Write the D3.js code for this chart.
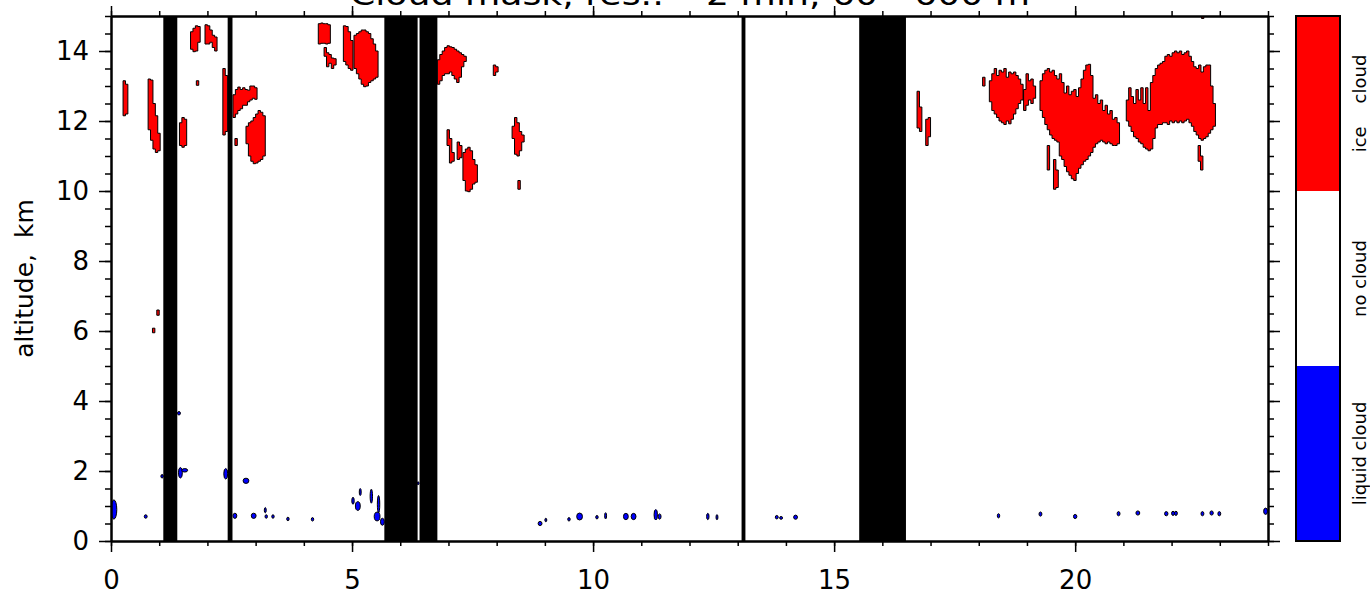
<!DOCTYPE html>
<html>
<head>
<meta charset="utf-8">
<script src="https://cdn.jsdelivr.net/npm/d3@7"></script>
<style>
body { margin: 0; background: #fff; }
svg { display: block; }
text { font-family: "DejaVu Sans", sans-serif; fill: #000; }
</style>
</head>
<body>
<svg width="1370" height="598"></svg>
<script>
// axis labels
const xTicks = [0, 5, 10, 15, 20];
const yTicks = [0, 2, 4, 6, 8, 10, 12, 14];

// periods without data (hours)
const gapStart = [1.085, 2.42, 5.67, 6.40, 13.08, 15.52];
const gapEnd   = [1.375, 2.52, 6.36, 6.77, 13.16, 16.49];

// ice cloud patches: start hour, then [base, top] km per 0.05 h column
const step = 0.05;
const iceStart = [0.25, 0.77, 1.42, 1.65, 1.95, 1.77, 2.32, 2.53, 2.57, 2.80,
                  4.30, 4.42, 4.82, 5.04, 6.77, 7.93, 6.97, 7.18, 7.30, 8.32,
                  8.44, 0.95, 0.86, 16.72, 16.90, 18.08, 18.22, 18.93, 19.27,
                  19.42, 19.55, 21.06, 22.55, 22.62];
const iceCols = [
  [[12.15,13.15],[12.2,13.05]],
  [[11.75,13.2],[11.45,13.17],[11.2,12.5],[11.1,12.15],[11.15,11.65]],
  [[11.3,11.95],[11.25,12.1],[11.3,12.05]],
  [[14.05,14.55],[13.98,14.65],[14.0,14.72],[14.25,14.7]],
  [[14.2,14.75],[14.2,14.72],[14.25,14.6],[14.1,14.45],[14.0,14.4]],
  [[13.02,13.15]],
  [[11.6,13.5],[11.7,13.3]],
  [[12.1,12.75],[12.2,12.9],[12.3,12.97],[12.35,12.9],[12.45,12.95],[12.45,12.9],[12.55,12.88],[12.6,13.0],[12.65,13.0],[12.62,12.95]],
  [[11.3,11.5]],
  [[11.35,11.85],[11.0,11.95],[10.85,12.0],[10.78,12.1],[10.8,12.2],[10.85,12.3],[10.9,12.25],[11.0,12.15]],
  [[14.2,14.78],[14.22,14.8],[14.22,14.78],[14.2,14.78],[14.22,14.75]],
  [[13.85,14.1],[13.55,13.95],[13.65,13.9],[13.5,13.8],[13.6,13.78]],
  [[13.7,14.72],[13.6,14.7],[13.5,14.55],[13.45,14.3]],
  [[13.5,14.45],[13.35,14.5],[13.2,14.55],[13.05,14.6],[12.98,14.6],[13.0,14.55],[13.1,14.5],[13.15,14.35],[13.2,14.2],[13.25,14.0]],
  [[13.05,13.75],[13.15,13.9],[13.3,14.0],[13.35,14.1],[13.35,14.15],[13.4,14.12],[13.3,14.1],[13.2,14.05],[13.1,14.0],[13.25,13.95],[13.55,13.9],[13.7,13.85]],
  [[13.3,13.6],[13.4,13.55]],
  [[11.3,11.75],[10.8,11.5],[10.85,11.1]],
  [[10.9,11.4],[10.95,11.3]],
  [[10.3,11.1],[10.0,11.2],[9.98,11.25],[10.05,11.15],[10.2,10.9],[10.25,10.75]],
  [[11.5,11.85],[11.05,12.1],[11.0,11.95],[11.15,11.7],[11.4,11.6]],
  [[10.05,10.3]],
  [[6.45,6.6]],
  [[5.95,6.08]],
  [[11.8,12.85],[11.7,12.4]],
  [[11.3,12.05],[11.55,12.1]],
  [[13.0,13.25]],
  [[12.55,13.15],[12.3,13.35],[12.2,13.5],[12.1,13.3],[12.0,13.45],[11.95,13.4],[11.9,13.5],[12.0,13.25],[11.92,13.4],[12.05,13.35],[12.2,13.4],[12.35,13.3],[12.5,13.2],[12.6,13.05]],
  [[12.3,12.9],[12.45,13.35],[12.6,13.15],[12.5,13.2],[12.65,13.0]],
  [[12.3,13.15],[12.1,13.35],[11.9,13.45],[11.75,13.5],[11.6,13.4],[11.5,13.45],[11.45,13.3],[11.4,13.2],[11.0,13.35],[10.9,13.1],[10.7,12.8],[10.55,13.0],[10.45,12.75],[10.35,12.85],[10.3,12.9],[10.5,12.7],[10.65,12.95],[10.75,13.2],[10.85,13.45],[10.9,13.6],[11.0,13.62],[11.1,13.3],[11.25,12.65],[11.35,12.75],[11.4,12.5],[11.45,12.6],[11.4,12.3],[11.35,12.45],[11.4,12.2],[11.35,12.3],[11.3,12.05],[11.3,12.1],[11.35,11.95]],
  [[10.6,11.3]],
  [[10.05,10.9],[10.1,10.6]],
  [[12.0,12.6],[11.85,12.95],[11.7,12.7],[11.55,12.5],[11.5,12.9],[11.4,12.6],[11.35,12.95],[11.25,12.5],[11.2,12.95],[11.15,12.3],[11.2,13.1],[11.5,13.3],[11.8,13.5],[11.9,13.6],[11.9,13.65],[11.95,13.7],[11.95,13.85],[11.9,13.9],[12.0,13.85],[11.95,13.95],[12.0,14.0],[11.95,13.95],[12.0,14.0],[11.95,13.9],[12.0,13.95],[12.05,14.0],[11.95,13.85],[11.85,13.7],[11.7,13.55],[11.6,13.5],[11.5,13.6],[11.45,13.4],[11.5,13.55],[11.55,13.6],[11.65,13.6],[11.75,13.0],[11.85,12.5]],
  [[10.85,11.3],[10.6,11.0]],
  [[14.93,15.0]]
];

// liquid cloud blobs: centre hour, centre km, width (h), depth (km)
const liquidHour  = [0.06, 0.72, 1.06, 1.44, 1.53, 1.41, 2.38, 2.80, 2.57, 2.96, 3.20, 3.22, 3.36, 3.67, 4.18,
                     5.02, 5.12, 5.17, 5.40, 5.55, 5.52, 5.63, 6.37, 8.90, 9.02, 9.50, 9.72, 10.08, 10.26,
                     10.68, 10.84, 11.30, 11.38, 12.38, 12.57, 13.81, 13.90, 14.20, 18.41, 19.28, 20.00,
                     20.90, 21.30, 21.89, 22.03, 22.09, 22.64, 22.83, 22.99, 23.95];
const liquidKm    = [0.90, 0.70, 1.85, 1.95, 2.02, 3.65, 1.92, 1.72, 0.72, 0.72, 0.88, 0.70, 0.70, 0.63, 0.62,
                     1.15, 1.00, 1.40, 1.28, 1.05, 0.70, 0.55, 1.65, 0.50, 0.60, 0.62, 0.70, 0.68, 0.72,
                     0.70, 0.70, 0.75, 0.70, 0.70, 0.68, 0.68, 0.66, 0.68, 0.72, 0.77, 0.70,
                     0.78, 0.80, 0.78, 0.79, 0.79, 0.78, 0.80, 0.78, 0.85];
const liquidWidth = [0.12, 0.06, 0.05, 0.08, 0.12, 0.06, 0.08, 0.12, 0.08, 0.10, 0.04, 0.05, 0.05, 0.05, 0.05,
                     0.05, 0.10, 0.04, 0.05, 0.05, 0.12, 0.08, 0.04, 0.08, 0.04, 0.05, 0.12, 0.05, 0.04,
                     0.10, 0.10, 0.07, 0.06, 0.05, 0.04, 0.06, 0.06, 0.08, 0.05, 0.06, 0.07,
                     0.06, 0.08, 0.07, 0.06, 0.06, 0.06, 0.07, 0.06, 0.08];
const liquidDepth = [0.55, 0.10, 0.10, 0.30, 0.10, 0.10, 0.30, 0.15, 0.15, 0.15, 0.15, 0.10, 0.10, 0.10, 0.10,
                     0.20, 0.25, 0.20, 0.40, 0.50, 0.25, 0.20, 0.08, 0.12, 0.10, 0.10, 0.20, 0.10, 0.18,
                     0.18, 0.18, 0.30, 0.15, 0.18, 0.15, 0.10, 0.08, 0.12, 0.12, 0.12, 0.12,
                     0.12, 0.12, 0.12, 0.12, 0.12, 0.12, 0.12, 0.12, 0.18];

// colour bar classes, bottom to top
const maskClasses = ["liquid cloud", "no cloud", "ice    cloud"];
const maskColors = ["#0000ff", "#ffffff", "#ff0000"];

const svg = d3.select("svg");
const margin = {top: 16, right: 102, bottom: 57, left: 111};
const width = 1370, height = 598;

const x = d3.scaleLinear().domain([0, 24]).range([margin.left, width - margin.right]);
const y = d3.scaleLinear().domain([0, 15]).range([height - margin.bottom, margin.top]);

svg.append("defs").append("clipPath").attr("id", "plot")
  .append("rect")
  .attr("x", x(0)).attr("y", y(15))
  .attr("width", x(24) - x(0)).attr("height", y(0) - y(15));

const plot = svg.append("g").attr("clip-path", "url(#plot)");

const line = d3.line().x(d => x(d[0])).y(d => y(d[1]));

iceCols.forEach((cols, k) => {
  const t0 = iceStart[k];
  const top = [], bot = [];
  cols.forEach((c, i) => {
    const a = t0 + i * step, b = a + step;
    top.push([a, c[1]], [b, c[1]]);
    bot.push([a, c[0]], [b, c[0]]);
  });
  plot.append("path")
    .attr("d", line(top.concat(bot.reverse())) + "Z")
    .attr("fill", "#ff0000")
    .attr("stroke", "#000")
    .attr("stroke-width", 1);
});

liquidHour.forEach((h, i) => {
  plot.append("ellipse")
    .attr("cx", x(h))
    .attr("cy", y(liquidKm[i]))
    .attr("rx", x(h + liquidWidth[i] / 2) - x(h))
    .attr("ry", y(0) - y(liquidDepth[i] / 2))
    .attr("fill", "#0000ff")
    .attr("stroke", "#000")
    .attr("stroke-width", 1);
});

gapStart.forEach((s, i) => {
  plot.append("rect")
    .attr("x", x(s))
    .attr("y", y(15))
    .attr("width", x(gapEnd[i]) - x(s))
    .attr("height", y(0) - y(15))
    .attr("fill", "#000");
});

// axes
function styleAxis(g) {
  g.select(".domain").attr("stroke-width", 2);
  g.selectAll(".tick line").attr("stroke-width", 1.5);
  g.selectAll("text").style("font-size", "26px").style("font-family", "DejaVu Sans");
}

const minorX = d3.range(0, 25, 1);
const minorY = d3.range(0, 15.01, 0.5);

svg.append("g").attr("transform", `translate(0,${y(0)})`)
  .call(d3.axisBottom(x).tickValues(minorX).tickSize(5).tickSizeOuter(0).tickFormat(""))
  .call(styleAxis);
svg.append("g").attr("transform", `translate(0,${y(0)})`)
  .call(d3.axisBottom(x).tickValues(xTicks).tickSize(11).tickSizeOuter(0).tickPadding(19).tickFormat(d3.format("d")))
  .call(styleAxis);

svg.append("g").attr("transform", `translate(0,${y(15)})`)
  .call(d3.axisTop(x).tickValues(minorX).tickSize(5).tickSizeOuter(0).tickFormat(""))
  .call(styleAxis);
svg.append("g").attr("transform", `translate(0,${y(15)})`)
  .call(d3.axisTop(x).tickValues(xTicks).tickSize(10).tickSizeOuter(0).tickFormat(""))
  .call(styleAxis);

svg.append("g").attr("transform", `translate(${x(0)},0)`)
  .call(d3.axisLeft(y).tickValues(minorY).tickSize(6).tickSizeOuter(0).tickFormat(""))
  .call(styleAxis);
svg.append("g").attr("transform", `translate(${x(0)},0)`)
  .call(d3.axisLeft(y).tickValues(yTicks).tickSize(12).tickSizeOuter(0).tickPadding(10).tickFormat(d3.format("d")))
  .call(styleAxis);

svg.append("g").attr("transform", `translate(${x(24)},0)`)
  .call(d3.axisRight(y).tickValues(minorY).tickSize(6).tickSizeOuter(0).tickFormat(""))
  .call(styleAxis);
svg.append("g").attr("transform", `translate(${x(24)},0)`)
  .call(d3.axisRight(y).tickValues(yTicks).tickSize(12).tickSizeOuter(0).tickFormat(""))
  .call(styleAxis);

// axis title
svg.append("text")
  .attr("transform", `translate(33,${(y(0) + y(15)) / 2}) rotate(-90)`)
  .attr("text-anchor", "middle")
  .style("font-size", "25px")
  .style("white-space", "pre")
  .text("altitude,  km");

// chart title (cut off by the top edge, as in the original)
svg.append("text")
  .attr("x", 690)
  .attr("y", 5)
  .attr("text-anchor", "middle")
  .attr("textLength", 680)
  .attr("lengthAdjust", "spacingAndGlyphs")
  .style("font-size", "30px")
  .text("Cloud mask, res.: ~2 min, 60 - 600 m");

// colour bar
const cb = d3.scaleBand().domain(maskClasses).range([y(0), y(15)]);
const cbX = 1296, cbW = 44;
const cbG = svg.append("g");
maskClasses.forEach((c, i) => {
  cbG.append("rect")
    .attr("x", cbX)
    .attr("y", cb(c))
    .attr("width", cbW)
    .attr("height", cb.bandwidth())
    .attr("fill", maskColors[i]);
  cbG.append("text")
    .attr("transform", `translate(1366,${cb(c) + cb.bandwidth() / 2}) rotate(-90)`)
    .attr("text-anchor", "middle")
    .style("font-size", "18px")
    .style("white-space", "pre")
    .text(c);
});
cbG.append("rect")
  .attr("x", cbX).attr("y", y(15))
  .attr("width", cbW).attr("height", y(0) - y(15))
  .attr("fill", "none").attr("stroke", "#000").attr("stroke-width", 2);
</script>
</body>
</html>
